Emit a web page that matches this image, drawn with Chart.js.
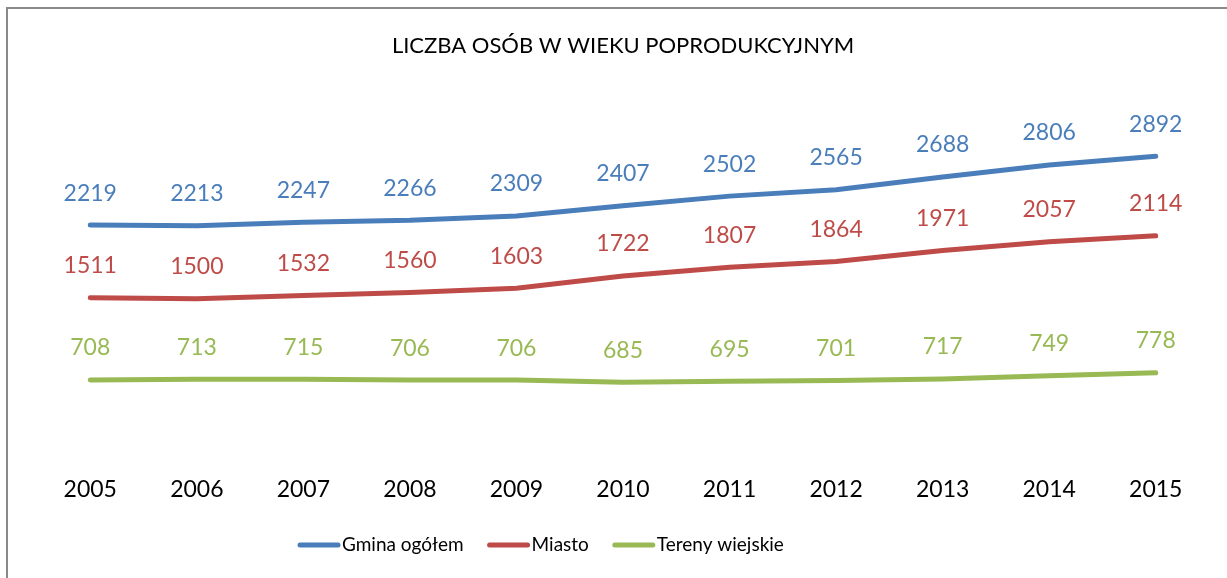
<!DOCTYPE html>
<html>
<head>
<meta charset="utf-8">
<script src="https://cdn.jsdelivr.net/npm/chart.js@4"></script>
<style>
    body { margin: 0; background: #fff; }
    #frame {
        position: absolute;
        left: 6px;
        top: 7px;
        width: 1219px;
        height: 569px;
        border-top: 2px solid #8a8a8a;
        border-left: 2px solid #8a8a8a;
    }
</style>
</head>
<body>
<div id="frame"><canvas id="lineChart" width="1219" height="569"></canvas></div>
<script>
    // Dane z wykresu
    const years = ['2005', '2006', '2007', '2008', '2009', '2010', '2011', '2012', '2013', '2014', '2015'];
    const gminaOgolem = [2219, 2213, 2247, 2266, 2309, 2407, 2502, 2565, 2688, 2806, 2892];
    const miasto = [1511, 1500, 1532, 1560, 1603, 1722, 1807, 1864, 1971, 2057, 2114];
    const terenyWiejskie = [708, 713, 715, 706, 706, 685, 695, 701, 717, 749, 778];

    const fontFamily = 'Lato, "Open Sans", sans-serif';

    // Etykiety wartości nad punktami
    const valueLabels = {
        id: 'valueLabels',
        afterDatasetsDraw(chart) {
            const ctx = chart.ctx;
            ctx.save();
            ctx.font = '23px ' + fontFamily;
            ctx.textAlign = 'center';
            ctx.textBaseline = 'middle';
            chart.data.datasets.forEach(function(ds, i) {
                const meta = chart.getDatasetMeta(i);
                ctx.fillStyle = ds.borderColor;
                meta.data.forEach(function(pt, j) {
                    ctx.fillText(String(ds.data[j]), pt.x, pt.y - 32);
                });
            });
            ctx.restore();
        }
    };

    // Legenda pod wykresem (linia + opis), jak w Excelu
    const bottomLegend = {
        id: 'bottomLegend',
        afterDraw(chart) {
            const ctx = chart.ctx;
            const y = 536;
            let x = 290;
            ctx.save();
            ctx.font = '19px ' + fontFamily;
            ctx.textBaseline = 'middle';
            ctx.textAlign = 'left';
            chart.data.datasets.forEach(function(ds) {
                ctx.strokeStyle = ds.borderColor;
                ctx.lineWidth = 5;
                ctx.lineCap = 'round';
                ctx.beginPath();
                ctx.moveTo(x + 2, y);
                ctx.lineTo(x + 40, y);
                ctx.stroke();
                x += 44;
                ctx.fillStyle = '#000';
                ctx.fillText(ds.label, x, y);
                x += ctx.measureText(ds.label).width + 24;
            });
            ctx.restore();
        }
    };

    const ctx = document.getElementById('lineChart').getContext('2d');
    new Chart(ctx, {
        type: 'line',
        data: {
            labels: years,
            datasets: [{
                label: 'Gmina ogółem',
                data: gminaOgolem,
                borderColor: '#4A7EBB',
                borderWidth: 5,
                pointRadius: 0,
                borderCapStyle: 'round'
            }, {
                label: 'Miasto',
                data: miasto,
                borderColor: '#BE4B48',
                borderWidth: 5,
                pointRadius: 0,
                borderCapStyle: 'round'
            }, {
                label: 'Tereny wiejskie',
                data: terenyWiejskie,
                borderColor: '#98B954',
                borderWidth: 5,
                pointRadius: 0,
                borderCapStyle: 'round'
            }]
        },
        options: {
            responsive: false,
            animation: false,
            layout: {
                padding: { left: 29, right: 18, top: 0, bottom: 52 }
            },
            scales: {
                x: {
                    offset: true,
                    grid: { display: false, drawTicks: false },
                    border: { display: false },
                    ticks: {
                        color: '#000',
                        padding: 23,
                        font: { family: fontFamily, size: 23 }
                    }
                },
                y: {
                    display: false,
                    min: 0,
                    max: 3500
                }
            },
            plugins: {
                title: {
                    display: true,
                    text: 'LICZBA OSÓB W WIEKU POPRODUKCYJNYM',
                    color: '#000',
                    font: { family: fontFamily, size: 22, weight: 'normal' },
                    padding: { top: 24, bottom: 34.5 }
                },
                legend: { display: false },
                tooltip: { enabled: false }
            }
        },
        plugins: [valueLabels, bottomLegend]
    });
</script>
</body>
</html>
